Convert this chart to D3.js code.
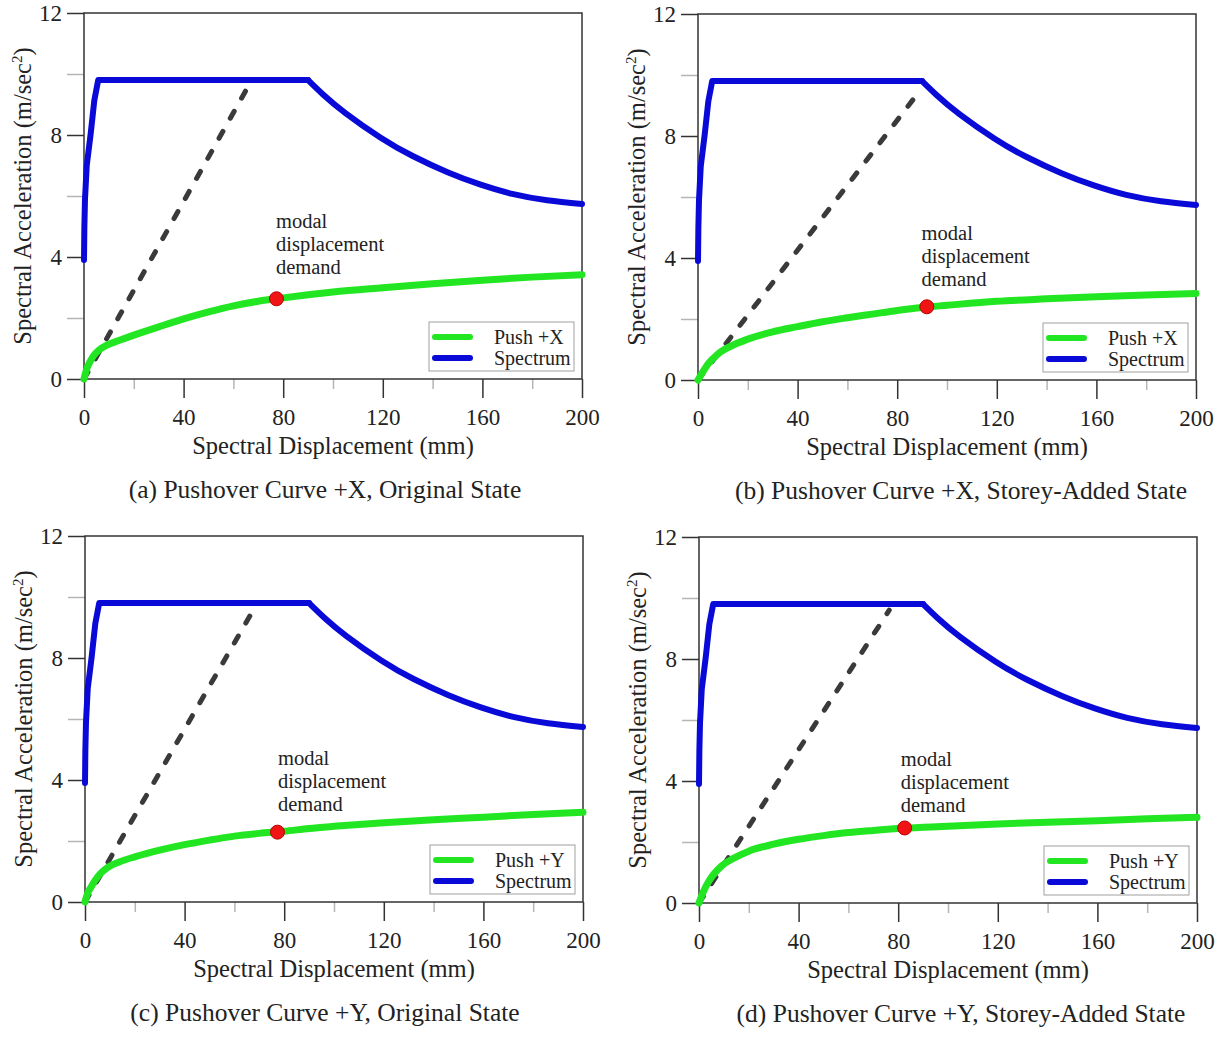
<!DOCTYPE html>
<html>
<head>
<meta charset="utf-8">
<title>Pushover curves vs spectrum</title>
<script src="https://cdn.jsdelivr.net/npm/d3@7/dist/d3.min.js"></script>
<style>
  body { margin: 0; background: #fff; }
  svg, svg text { font-family: "Liberation Serif", "Times New Roman", serif; }
  svg { display: block; }
  .axis text { font-size: 23px; fill: #222; font-family: "Liberation Serif", "Times New Roman", serif; }
  .axis line { stroke: #333; stroke-width: 1.5px; }
  .axis.minor line { stroke: #b5b5b5; }
  .frame { fill: none; stroke: #333; stroke-width: 1.5px; }
  .title { font-size: 24.5px; fill: #222; }
  .caption { font-size: 25.5px; fill: #222; }
  .note { font-size: 20.5px; fill: #222; }
  .legend text { font-size: 20px; fill: #222; }
</style>
</head>
<body>
<svg id="chart" width="1224" height="1037"></svg>
<script>
// axis ticks
var sdTicks = [0, 40, 80, 120, 160, 200];
var sdMinor = [20, 60, 100, 140, 180];
var saTicks = [0, 4, 8, 12];
var saMinor = [2, 6, 10];

var captions = [
  "(a) Pushover Curve +X, Original State",
  "(b) Pushover Curve +X, Storey-Added State",
  "(c) Pushover Curve +Y, Original State",
  "(d) Pushover Curve +Y, Storey-Added State"
];
var pushNames = ["Push +X", "Push +X", "Push +Y", "Push +Y"];

// demand spectrum (same in all panels): rising branch + plateau, then falling branch
var spectrumSd = [0, 0.15, 0.4, 1.1, 2.7, 4.15, 5.7, 90];
var spectrumSa = [3.9, 5.0, 5.9, 7.0, 8.05, 9.14, 9.8, 9.8];
var spectrumTailSd = [90, 96, 105, 119, 132, 146, 159, 172, 186, 200];
var spectrumTailSa = [9.8, 9.33, 8.72, 7.92, 7.31, 6.78, 6.38, 6.07, 5.86, 5.74];

// pushover curves
var pushSd  = [0, 1, 2.5, 4, 6, 9, 14, 20, 30, 40, 50, 60, 70, 80, 90, 100, 120, 140, 160, 180, 200];
var pushSaA = [0, 0.3, 0.58, 0.78, 0.95, 1.1, 1.26, 1.44, 1.71, 1.97, 2.2, 2.4, 2.55, 2.66, 2.76, 2.85, 2.99, 3.12, 3.24, 3.34, 3.42];
var pushSaB = [0, 0.14, 0.34, 0.52, 0.7, 0.92, 1.14, 1.34, 1.58, 1.75, 1.91, 2.04, 2.16, 2.28, 2.38, 2.45, 2.58, 2.66, 2.73, 2.79, 2.84];
var pushSaC = [0, 0.27, 0.5, 0.7, 0.92, 1.13, 1.32, 1.48, 1.7, 1.88, 2.03, 2.16, 2.25, 2.32, 2.41, 2.48, 2.6, 2.7, 2.78, 2.87, 2.94];
var pushSaD = [0, 0.22, 0.5, 0.72, 0.95, 1.21, 1.47, 1.7, 1.93, 2.09, 2.21, 2.31, 2.38, 2.44, 2.48, 2.52, 2.59, 2.65, 2.7, 2.76, 2.81];

// performance points and secant line ends
var demandSd = [77.3, 91.9, 77.3, 82.6];
var demandSa = [2.63, 2.40, 2.29, 2.46];
var secantSd = [67, 88.3, 68, 76.4];
var secantSa = [9.75, 9.4, 9.63, 9.6];
var noteSd = [77.1, 89.8, 77.5, 81];
var noteSa = [5.2, 4.82, 4.74, 4.72];
var noteLines = ["modal", "displacement", "demand"];

var pushSa = [pushSaA, pushSaB, pushSaC, pushSaD];

var width = 498, height = 366;
var lefts = [84, 698, 85, 699], tops = [13, 14, 536, 537];
var captionX = [325, 961, 325, 961];

var svg = d3.select("#chart");

var spectrum = spectrumSd.map(function(d, i){ return [d, spectrumSa[i]]; });
var spectrumTail = spectrumTailSd.map(function(d, i){ return [d, spectrumTailSa[i]]; });

for (var p = 0; p < 4; p++) {
  var x = d3.scaleLinear().domain([0, 200]).range([0, width]);
  var y = d3.scaleLinear().domain([0, 12]).range([height, 0]);

  var g = svg.append("g")
    .attr("transform", "translate(" + lefts[p] + "," + tops[p] + ")");

  g.append("g").attr("class", "axis minor")
    .call(d3.axisLeft(y).tickValues(saMinor).tickSize(17).tickFormat(""));
  g.append("g").attr("class", "axis minor")
    .attr("transform", "translate(0," + height + ")")
    .call(d3.axisBottom(x).tickValues(sdMinor).tickSize(10).tickFormat(""));
  g.append("g").attr("class", "axis")
    .call(d3.axisLeft(y).tickValues(saTicks).tickSize(17).tickPadding(5));
  g.append("g").attr("class", "axis")
    .attr("transform", "translate(0," + height + ")")
    .call(d3.axisBottom(x).tickValues(sdTicks).tickSize(19).tickPadding(11));
  g.selectAll(".axis .domain").remove();
  g.selectAll(".axis").attr("font-family", null).attr("font-size", null);

  g.append("rect").attr("class", "frame")
    .attr("width", width).attr("height", height);

  // secant (dashed)
  g.append("line")
    .attr("x1", x(0)).attr("y1", y(0))
    .attr("x2", x(secantSd[p])).attr("y2", y(secantSa[p]))
    .attr("stroke", "#3a3a3a").attr("stroke-width", 5)
    .attr("stroke-linecap", "round").attr("stroke-dasharray", "8 15");

  var line = d3.line()
    .x(function(d){ return x(d[0]); })
    .y(function(d){ return y(d[1]); });
  var natural = d3.line()
    .x(function(d){ return x(d[0]); })
    .y(function(d){ return y(d[1]); })
    .curve(d3.curveNatural);
  var smooth = d3.line()
    .x(function(d){ return x(d[0]); })
    .y(function(d){ return y(d[1]); })
    .curve(d3.curveMonotoneX);

  [[spectrum, line], [spectrumTail, natural]].forEach(function(s){
    g.append("path").datum(s[0])
      .attr("d", s[1])
      .attr("fill", "none").attr("stroke", "#0a0ad8").attr("stroke-width", 6)
      .attr("stroke-linejoin", "round").attr("stroke-linecap", "round");
  });

  var push = pushSd.map(function(d, i){ return [d, pushSa[p][i]]; });
  g.append("path").datum(push)
    .attr("d", smooth)
    .attr("fill", "none").attr("stroke", "#22e622").attr("stroke-width", 7)
    .attr("stroke-linecap", "round");

  g.append("circle")
    .attr("cx", x(demandSd[p])).attr("cy", y(demandSa[p])).attr("r", 7)
    .attr("fill", "#f01414").attr("stroke", "#b80000").attr("stroke-width", 1);

  var note = g.append("text").attr("class", "note")
    .attr("x", x(noteSd[p])).attr("y", y(noteSa[p]));
  noteLines.forEach(function(t, i){
    note.append("tspan").attr("x", x(noteSd[p]))
      .attr("dy", i === 0 ? "0.35em" : 23).text(t);
  });

  // legend
  var lg = g.append("g").attr("class", "legend")
    .attr("transform", "translate(" + (width - 153) + "," + (height - 57) + ")");
  lg.append("rect").attr("width", 145).attr("height", 49)
    .attr("fill", "#fff").attr("stroke", "#a0a0a0").attr("stroke-width", 1);
  [["#22e622", pushNames[p]], ["#0a0ad8", "Spectrum"]].forEach(function(e, i){
    lg.append("line").attr("x1", 6).attr("x2", 41)
      .attr("y1", 15 + i * 21).attr("y2", 15 + i * 21)
      .attr("stroke", e[0]).attr("stroke-width", 6).attr("stroke-linecap", "round");
    lg.append("text").attr("x", 65).attr("y", 22 + i * 21).text(e[1]);
  });

  // titles
  var yt = g.append("text").attr("class", "title")
    .attr("text-anchor", "middle")
    .attr("transform", "translate(-53," + (height / 2) + ") rotate(-90)");
  yt.append("tspan").text("Spectral Acceleration (m/sec");
  yt.append("tspan").attr("dy", -9).attr("font-size", "15px").text("2");
  yt.append("tspan").attr("dy", 9).text(")");

  g.append("text").attr("class", "title")
    .attr("text-anchor", "middle")
    .attr("x", width / 2).attr("y", height + 75)
    .text("Spectral Displacement (mm)");

  svg.append("text").attr("class", "caption")
    .attr("text-anchor", "middle")
    .attr("x", captionX[p]).attr("y", tops[p] + height + 119)
    .text(captions[p]);
}
</script>
</body>
</html>
